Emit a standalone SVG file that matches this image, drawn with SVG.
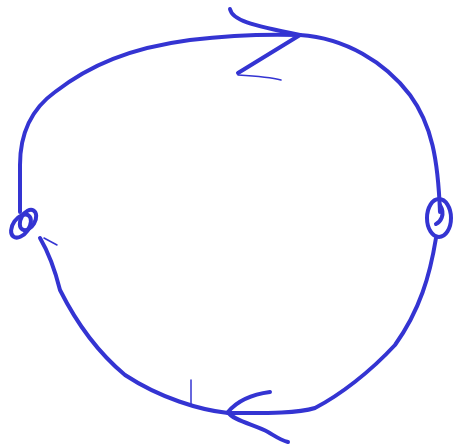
<svg xmlns="http://www.w3.org/2000/svg" width="458" height="447" viewBox="0 0 458 447">
<style>
.s{fill:none;stroke:#3434d2;stroke-width:4;stroke-linecap:round;stroke-linejoin:round}
.t{fill:none;stroke:#3434d2;stroke-width:1.5;stroke-linecap:round}
</style>
<rect width="458" height="447" fill="#fff"/>
<g id="connectors">
<path class="s" d="M20,212 L20,165 C20,135 30,110 55,92 C90,65 130,48 190,40 C240,34 270,34 300,35 C345,38 385,62 410,95 C432,125 438,160 440,212"/>
<path class="s" d="M436,238 C430,275 420,310 395,345 C370,372 340,395 315,408 C295,414 260,413 228,413"/>
<path class="s" d="M228,413 C200,410 160,398 125,375 C95,350 75,320 60,290 C55,270 50,255 40,238"/>
<path class="s" d="M230,9 C232,20 250,25 300,35 L238,73"/>
<path class="t" d="M238,75 C255,76 270,77 281,80"/>
<path class="s" d="M270,392 C255,394 238,400 228,412 C232,420 255,425 268,432 C275,436 280,440 288,442"/>
<path class="t" d="M191,380 L191,405"/>
<path class="t" d="M44,238 L57,245"/>
</g>
<g id="left-loop">
<ellipse class="s" cx="21" cy="226" rx="8" ry="13" transform="rotate(35 21 226)"/>
<ellipse class="s" cx="28" cy="220" rx="7" ry="11" transform="rotate(30 28 220)"/>
</g>
<g id="right-loop">
<ellipse class="s" cx="439" cy="218" rx="12" ry="19"/>
<path class="s" d="M440,205 C446,215 440,222 436,224"/>
</g>
</svg>
